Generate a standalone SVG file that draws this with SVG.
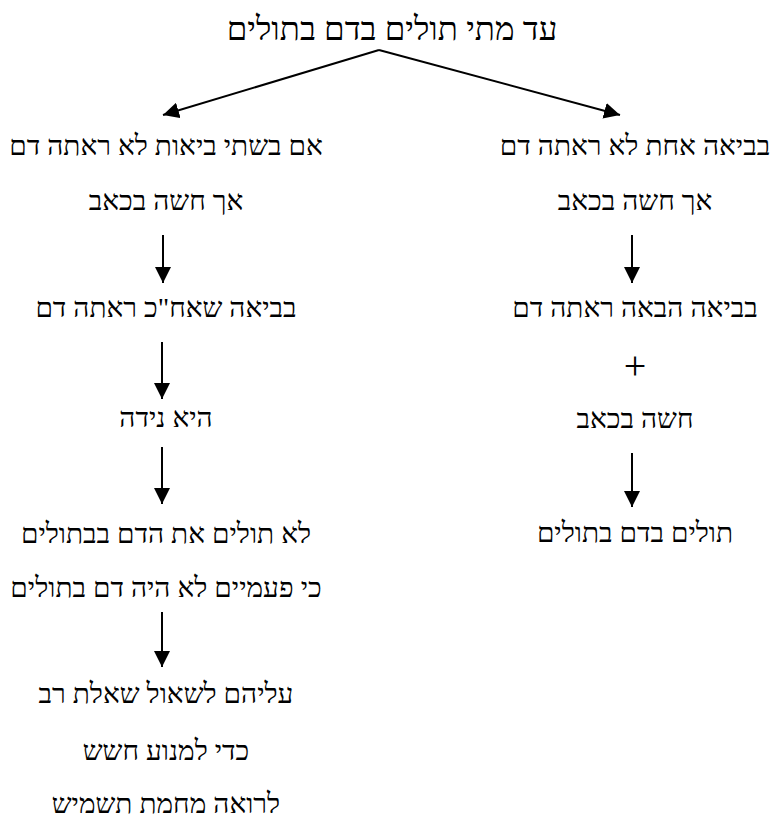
<svg xmlns="http://www.w3.org/2000/svg" width="771" height="819" viewBox="0 0 771 819">
<style>
text{font-family:"Liberation Serif","DejaVu Serif",serif;fill:#000;text-anchor:middle;direction:rtl}
.t{font-size:33px}
.b{font-size:28px}
.p{font-size:40px;font-family:"Liberation Serif",serif}
.c line{stroke:#000;stroke-width:2}
</style>
<defs>
<marker id="ah" markerUnits="userSpaceOnUse" markerWidth="16" markerHeight="16" viewBox="0 0 16 16" refX="16" refY="8" orient="auto">
<path d="M0,0 L16,8 L0,16 Z" fill="#000"/>
</marker>
</defs>
<rect width="771" height="819" fill="#fff"/>
<g id="title"><text class="t" x="392" y="40">עד מתי תולים בדם בתולים</text></g>
<g id="left">
<text class="b" x="166" y="155">אם בשתי ביאות לא ראתה דם</text>
<text class="b" x="166" y="210">אך חשה בכאב</text>
<text class="b" x="166" y="317">בביאה שאח"כ ראתה דם</text>
<text class="b" x="166" y="427">היא נידה</text>
<text class="b" x="166" y="543">לא תולים את הדם בבתולים</text>
<text class="b" x="166" y="597">כי פעמיים לא היה דם בתולים</text>
<text class="b" x="166" y="703">עליהם לשאול שאלת רב</text>
<text class="b" x="166" y="760">כדי למנוע חשש</text>
<text class="b" x="166" y="813">לרואה מחמת תשמיש</text>
</g>
<g id="right">
<text class="b" x="635" y="155">בביאה אחת לא ראתה דם</text>
<text class="b" x="635" y="210">אך חשה בכאב</text>
<text class="b" x="635" y="317">בביאה הבאה ראתה דם</text>
<text class="p" x="635" y="379">+</text>
<text class="b" x="635" y="428">חשה בכאב</text>
<text class="b" x="635" y="542">תולים בדם בתולים</text>
</g>
<g id="connectors" class="c">
<line x1="379" y1="50" x2="163" y2="115" marker-end="url(#ah)"/>
<line x1="379" y1="50" x2="620" y2="115" marker-end="url(#ah)"/>
<line x1="163" y1="235" x2="163" y2="283" marker-end="url(#ah)"/>
<line x1="162" y1="342" x2="162" y2="399" marker-end="url(#ah)"/>
<line x1="162" y1="447" x2="162" y2="504" marker-end="url(#ah)"/>
<line x1="162" y1="612" x2="162" y2="667" marker-end="url(#ah)"/>
<line x1="632" y1="235" x2="632" y2="283" marker-end="url(#ah)"/>
<line x1="632" y1="453" x2="632" y2="507" marker-end="url(#ah)"/>
</g>
</svg>
